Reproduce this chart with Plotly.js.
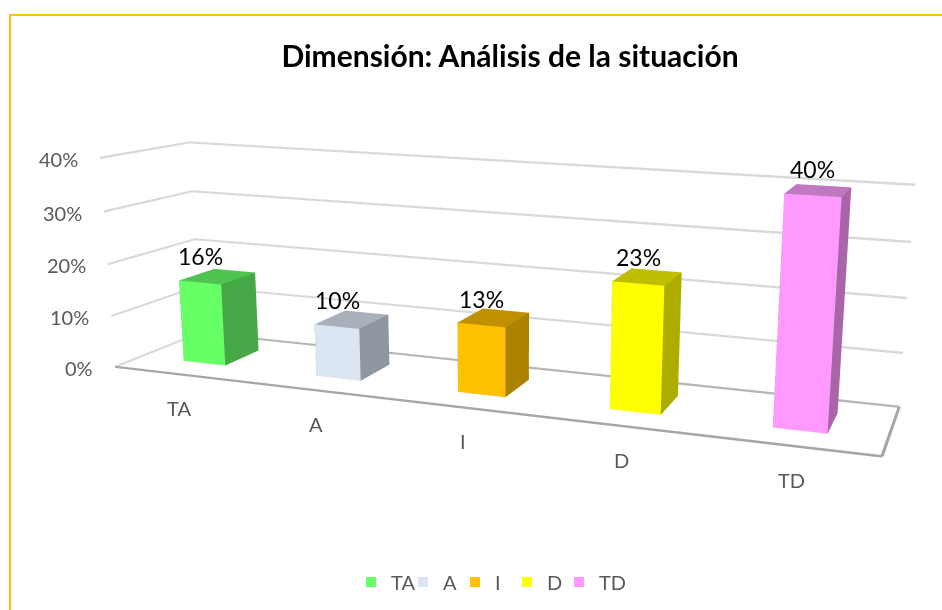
<!DOCTYPE html>
<html><head><meta charset="utf-8">
<script src="https://cdn.plot.ly/plotly-3.0.1.min.js"></script>
<style>html,body{margin:0;padding:0;width:942px;height:610px;overflow:hidden;background:#fff}
#chart{position:absolute;left:0;top:-243px;width:1212px;height:1110px}</style>
</head><body><div id="chart"></div>
<script>
const categories = ["TA","A","I","D","TD"];
const values = [16,10,13,23,40];
const valueLabels = ["16%","10%","13%","23%","40%"];
const frontColors = ["#66ff66","#dce6f2","#ffc000","#ffff00","#ff99ff"];
const sideColors = ["#46a846","#8e96a0","#ad8200","#adad00","#a866a8"];
const topColors = ["#50c450","#a8b0ba","#bf9000","#bfbf00","#c078c0"];
const yTicks = [0,10,20,30,40];
const yTickLabels = ["0%","10%","20%","30%","40%"];
const W=1212,H=1110,OX=0,OY=-243;
const px=x=>(x-OX)/W, py=y=>1-(y-OY)/H;
const xLo=-0.4904,xHi=4.5016;
const barHalf=0.16, d0=0.295, d1=0.72;
const traces=[];
// a thick line as a thin mesh strip, so its width stays even in every direction
function strip(P,Q,offset,color){
  return {type:'mesh3d',x:[P[0]-offset[0],Q[0]-offset[0],Q[0]+offset[0],P[0]+offset[0]],
    y:[P[1]-offset[1],Q[1]-offset[1],Q[1]+offset[1],P[1]+offset[1]],
    z:[P[2]-offset[2],Q[2]-offset[2],Q[2]+offset[2],P[2]+offset[2]],
    i:[0,0],j:[1,2],k:[2,3],color:color,flatshading:true,showlegend:false,hoverinfo:'skip',
    lighting:{ambient:1,diffuse:0,specular:0,roughness:1,fresnel:0}};
}
const dz=[0,0,0.22], dx=[0.009,0,0];
yTicks.forEach(t=>{
  traces.push(strip([xLo,0,t],[xLo,1,t],dz,'#d9d9d9'));
  traces.push(strip([xLo,1,t],[xHi,1,t],dz,t===0?'#b5b5b5':'#d9d9d9'));
});
traces.push(strip([xLo,0,0],[xHi,0,0],dz,'#a6a6a6'));
traces.push(strip([xHi,0,0],[xHi,1,0],dx,'#a6a6a6'));
categories.forEach((c,i)=>{
  const a=i-barHalf,b=i+barHalf,v=values[i];
  const X=[a,b,b,a,a,b,b,a],Y=[d0,d0,d1,d1,d0,d0,d1,d1],Z=[0,0,0,0,v,v,v,v];
  const I=[0,0,1,1,4,4,3,3,0,0,2,2],J=[1,5,2,6,5,6,2,6,3,7,3,7],K=[5,4,6,5,6,7,6,7,7,4,7,6];
  const fc=[frontColors[i],frontColors[i],sideColors[i],sideColors[i],topColors[i],topColors[i],sideColors[i],sideColors[i],sideColors[i],sideColors[i],sideColors[i],sideColors[i]];
  traces.push({type:'mesh3d',name:c,x:X,y:Y,z:Z,i:I,j:J,k:K,facecolor:fc,flatshading:true,showlegend:false,
    lighting:{ambient:1,diffuse:0,specular:0,roughness:1,fresnel:0},lightposition:{x:0,y:0,z:100},hoverinfo:'skip'});
  traces.push({type:'scatter',mode:'markers',name:c,x:[null],y:[null],marker:{symbol:'square',size:10,color:frontColors[i]},hoverinfo:'skip'});
});
// empty last legend entry: it only keeps the legend box wide enough for "TD"
traces.push({type:'scatter',mode:'markers',name:'\u00a0',x:[null],y:[null],marker:{symbol:'square',size:10,color:'rgba(0,0,0,0)'},hoverinfo:'skip'});
const ann=[];
yTicks.forEach((t,i)=>ann.push({x:xLo,y:0,z:t,text:yTickLabels[i],showarrow:false,xanchor:'right',xshift:-20,yshift:-1,font:{family:'Lato',size:20,color:'#595959'}}));
categories.forEach((c,i)=>ann.push({x:i,y:0,z:0,text:c,showarrow:false,yshift:-34,font:{family:'Lato',size:20,color:'#595959'}}));
categories.forEach((c,i)=>ann.push({x:i,y:0.3,z:values[i],text:valueLabels[i],showarrow:false,yanchor:'middle',yshift:26,font:{family:'Lato',size:23,color:'#000'}}));
const k=1/300;
const ax={showgrid:false,zeroline:false,showline:false,showticklabels:false,ticks:'',showbackground:false,showspikes:false,title:{text:''}};
const layout={width:W,height:H,margin:{l:0,r:0,t:0,b:0},paper_bgcolor:'rgba(0,0,0,0)',plot_bgcolor:'rgba(0,0,0,0)',
 xaxis:{visible:false},yaxis:{visible:false},
 title:{text:'<b>Dimensión: Análisis de la situación</b>',x:px(510),y:py(56),xref:'paper',yref:'paper',xanchor:'center',yanchor:'middle',font:{family:'Lato',size:30,color:'#000'}},
 showlegend:true,
 legend:{orientation:'h',x:px(351),y:py(582),xanchor:'left',yanchor:'middle',entrywidth:7,entrywidthmode:'pixels',font:{family:'Lato',size:20,color:'#595959'},bgcolor:'rgba(0,0,0,0)'},
 shapes:[{type:'rect',xref:'paper',yref:'paper',x0:px(10),x1:px(1100),y0:py(15),y1:py(800),line:{color:'#ffc000',width:2}}],
 scene:{domain:{x:[0,1],y:[0,1]},aspectmode:'manual',aspectratio:{x:763.4*k,y:151.6*k,z:214.5*k},
  xaxis:Object.assign({},ax,{range:[xLo-0.02,xHi+0.02]}),yaxis:Object.assign({},ax,{range:[-0.02,1.02]}),
  zaxis:Object.assign({},ax,{range:[-0.5,40.5]}),
  camera:{eye:{x:473*k,y:-1155.8*k,z:272.1*k},center:{x:103.9*k,y:25.6*k,z:-27.2*k},up:{x:-0.087,y:0.2188,z:0.9718},projection:{type:'perspective'}},
  annotations:ann}};
Plotly.newPlot('chart',traces,layout,{displayModeBar:false});
</script></body></html>
